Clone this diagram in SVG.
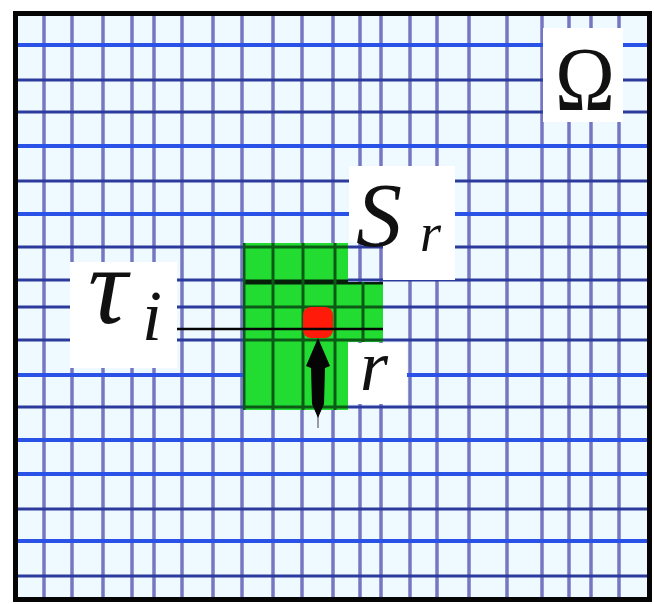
<svg xmlns="http://www.w3.org/2000/svg" width="654" height="604" viewBox="0 0 654 604">
<defs>
<style>
.hb{stroke:#2a52e6;stroke-width:4;}
.hd{stroke:#2c3a9c;stroke-width:3;}
.v{stroke:#5f5fb8;stroke-width:3.5;stroke-opacity:0.85;}
.gl{stroke:#0b5a16;stroke-width:3;}
.lbl{font-family:"Liberation Serif","DejaVu Serif",serif;fill:#111;}
.it{font-style:italic;}
.box{fill:#ffffff;}
</style>
<clipPath id="greenClip">
<polygon points="243,243 348,243 348,282 383,282 383,342 348,342 348,410 243,410"/>
</clipPath>
</defs>
<rect x="0" y="0" width="654" height="604" fill="#ffffff"/>
<g id="domain">
<rect x="15" y="13" width="635" height="587" fill="#eefaff"/>
<g id="grid-v">
<line class="v" x1="44" y1="13" x2="44" y2="600"/>
<line class="v" x1="72" y1="13" x2="72" y2="600"/>
<line class="v" x1="103" y1="13" x2="103" y2="600"/>
<line class="v" x1="132" y1="13" x2="132" y2="600"/>
<line class="v" x1="154" y1="13" x2="154" y2="600"/>
<line class="v" x1="182" y1="13" x2="182" y2="600"/>
<line class="v" x1="213" y1="13" x2="213" y2="600"/>
<line class="v" x1="242" y1="13" x2="242" y2="600"/>
<line class="v" x1="273" y1="13" x2="273" y2="600"/>
<line class="v" x1="302" y1="13" x2="302" y2="600"/>
<line class="v" x1="333" y1="13" x2="333" y2="600"/>
<line class="v" x1="360" y1="13" x2="360" y2="600"/>
<line class="v" x1="381" y1="13" x2="381" y2="600"/>
<line class="v" x1="410" y1="13" x2="410" y2="600"/>
<line class="v" x1="437" y1="13" x2="437" y2="600"/>
<line class="v" x1="469" y1="13" x2="469" y2="600"/>
<line class="v" x1="507" y1="13" x2="507" y2="600"/>
<line class="v" x1="542" y1="13" x2="542" y2="600"/>
<line class="v" x1="569" y1="13" x2="569" y2="600"/>
<line class="v" x1="591" y1="13" x2="591" y2="600"/>
<line class="v" x1="619" y1="13" x2="619" y2="600"/>
</g>
<g id="grid-h">
<line class="hb" x1="15" y1="45" x2="650" y2="45"/>
<line class="hd" x1="15" y1="80" x2="650" y2="80"/>
<line class="hd" x1="15" y1="112" x2="650" y2="112"/>
<line class="hb" x1="15" y1="146" x2="650" y2="146"/>
<line class="hd" x1="15" y1="181" x2="650" y2="181"/>
<line class="hb" x1="15" y1="214" x2="650" y2="214"/>
<line class="hd" x1="15" y1="247" x2="650" y2="247"/>
<line class="hd" x1="15" y1="280" x2="650" y2="280"/>
<line class="hd" x1="15" y1="307" x2="650" y2="307"/>
<line class="hd" x1="15" y1="340" x2="650" y2="340"/>
<line class="hb" x1="15" y1="375" x2="650" y2="375"/>
<line class="hd" x1="15" y1="407" x2="650" y2="407"/>
<line class="hb" x1="15" y1="440" x2="650" y2="440"/>
<line class="hb" x1="15" y1="474" x2="650" y2="474"/>
<line class="hd" x1="15" y1="509" x2="650" y2="509"/>
<line class="hb" x1="15" y1="541" x2="650" y2="541"/>
<line class="hd" x1="15" y1="576" x2="650" y2="576"/>
</g>
</g>
<g id="support-Sr">
<polygon points="243,243 348,243 348,282 383,282 383,342 348,342 348,410 243,410" fill="#22dc32"/>
<g clip-path="url(#greenClip)">
<line class="gl" x1="243" y1="247" x2="383" y2="247"/>
<line x1="243" y1="282" x2="383" y2="282" stroke="#06200a" stroke-width="5"/>
<line class="gl" x1="243" y1="307" x2="383" y2="307"/>
<line class="gl" x1="243" y1="340" x2="383" y2="340"/>
<line class="gl" x1="243" y1="407" x2="383" y2="407"/>
<line class="gl" x1="244" y1="243" x2="244" y2="410"/>
<line class="gl" x1="273" y1="243" x2="273" y2="410"/>
<line class="gl" x1="303" y1="243" x2="303" y2="410"/>
<line class="gl" x1="335" y1="243" x2="335" y2="410"/>
<line class="gl" x1="363" y1="243" x2="363" y2="410"/>
</g>
</g>
<g id="point-r">
<rect x="303" y="307" width="30" height="31" rx="8" fill="#ff1a0a"/>
</g>
<g id="connectors">
<line id="tau-pointer" x1="177" y1="329" x2="383" y2="329" stroke="#050505" stroke-width="2.5"/>
<line x1="318" y1="410" x2="318" y2="428" stroke="#9a9aa8" stroke-width="2"/>
<path id="r-arrow" d="M318,338 L330,366 L325,368 L324,404 L318,418 L312,404 L311,368 L306,366 Z" fill="#050505"/>
</g>
<g id="label-omega">
<rect class="box" x="543" y="28" width="80" height="94"/>
<text class="lbl" x="555" y="110" font-size="92" textLength="60" lengthAdjust="spacingAndGlyphs">Ω</text>
</g>
<g id="label-Sr">
<rect class="box" x="349" y="166" width="106" height="76"/>
<rect class="box" x="383" y="242" width="72" height="38"/>
<text class="lbl it" x="356" y="246" font-size="92">S</text>
<text class="lbl it" x="420" y="251" font-size="54">r</text>
</g>
<g id="label-tau-i">
<rect class="box" x="70" y="262" width="107" height="106"/>
<text class="lbl it" x="88" y="323" font-size="110">τ</text>
<text class="lbl it" x="142" y="340" font-size="72">i</text>
</g>
<g id="label-r">
<rect class="box" x="348" y="343" width="59" height="61"/>
<text class="lbl it" x="360" y="390" font-size="72">r</text>
</g>
<rect x="15.5" y="13.5" width="634" height="586" fill="none" stroke="#050505" stroke-width="5"/>
</svg>
